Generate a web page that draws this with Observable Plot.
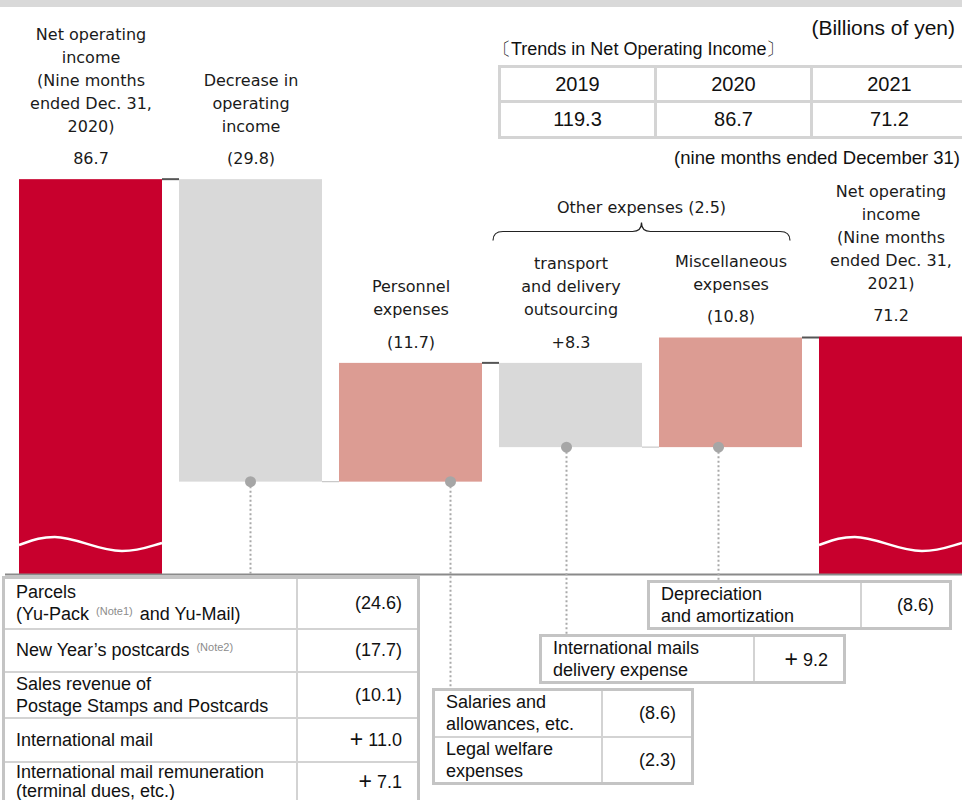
<!DOCTYPE html>
<html>
<head>
<meta charset="utf-8">
<script src="https://cdn.jsdelivr.net/npm/d3@7"></script>
<script src="https://cdn.jsdelivr.net/npm/@observablehq/plot@0.6"></script>
<style>
  html, body { margin: 0; padding: 0; background: #fff; }
  body { width: 962px; height: 800px; overflow: hidden; position: relative;
         font-family: "Liberation Sans", Arial, sans-serif; color: #111; }
  #band { position: absolute; left: 0; top: 0; width: 962px; height: 7px; background: #d9d9d9; }
  #chart { position: absolute; left: 0; top: 0; }
  .note-text { position: absolute; white-space: nowrap; }
  #unit { right: 7px; top: 16px; font-size: 21px; line-height: 24px; }
  #trendTitle { left: 493px; top: 38px; font-size: 18px; line-height: 22px; }
  #period { right: 2px; top: 147px; font-size: 18.5px; line-height: 22px; }
  table.trend { position: absolute; left: 498px; top: 65px; border-collapse: collapse; table-layout: fixed;
                width: 468px; font-size: 20px; border: 3px solid #d4d4d4; }
  table.trend td { border: 3px solid #d4d4d4; text-align: center; padding: 0; }
  table.box { position: absolute; border-collapse: collapse; table-layout: fixed; font-size: 18px;
              line-height: 22px; color: #111; border: 3px solid #c4c4c4; background: #fff; }
  table.box td { border: 2px solid #d3d3d3; padding: 0 0 0 11px; vertical-align: middle; white-space: nowrap; }
  table.box td.v { text-align: right; padding: 0 15px 0 0; }
  table.box td.tight { line-height: 19px; }
  table.box sup { font-size: 11px; color: #8c8c8c; vertical-align: top; position: relative; top: -3px; margin: 0 2px; }
  table.box .plus { font-size: 23px; font-family: "Liberation Sans", Arial, sans-serif; vertical-align: -1px; }
</style>
</head>
<body>
<div id="band"></div>
<div id="chart"></div>
<div class="note-text" id="unit">(Billions of yen)</div>
<div class="note-text" id="trendTitle">〔Trends in Net Operating Income〕</div>
<div class="note-text" id="period">(nine months ended December 31)</div>
<script>
// ---- Net operating income, start and end of the bridge ----
const startLabel = "Net operating\nincome\n(Nine months\nended Dec. 31,\n2020)";
const endLabel = "Net operating\nincome\n(Nine months\nended Dec. 31,\n2021)";
const startIncome = 86.7;
const endIncome = 71.2;

// ---- Factors between the two periods (changes as reported) ----
const factorKeys = ["revenue", "personnel", "transport", "misc"];
const factorLabels = [
  "Decrease in\noperating\nincome",
  "Personnel\nexpenses",
  "transport\nand delivery\noutsourcing",
  "Miscellaneous\nexpenses"
];
const factorChanges = [-29.8, -11.7, 8.3, -10.8];
const factorIsExpense = [false, true, true, true];
const otherExpenseKeys = ["transport", "misc"];

// ---- Trend table ----
const trendYears = ["2019", "2020", "2021"];
const trendIncome = [119.3, 86.7, 71.2];

// ---- Breakdown tables ----
const revenueItems = [
  "Parcels\n(Yu-Pack [Note1] and Yu-Mail)",
  "New Year’s postcards [Note2]",
  "Sales revenue of\nPostage Stamps and Postcards",
  "International mail",
  "International mail remuneration\n(terminal dues, etc.)"
];
const revenueChanges = [-24.6, -17.7, -10.1, 11.0, 7.1];
const personnelItems = ["Salaries and\nallowances, etc.", "Legal welfare\nexpenses"];
const personnelChanges = [-8.6, -2.3];
const transportItems = ["International mails\ndelivery expense"];
const transportChanges = [9.2];
const miscItems = ["Depreciation\nand amortization"];
const miscChanges = [-8.6];

// ---- Styling ----
const RED = "#c8002d", SALMON = "#dc9c93", GRAY = "#d9d9d9";
const LABEL_FONT = "DejaVu Sans, Verdana, sans-serif";
const LABEL_SIZE = 16;
const axisFloor = 47.8;   // value at the broken baseline
const axisTop = 87.8;

const fmtBar = v => v < 0 ? `(${(-v).toFixed(1)})` : `+${v.toFixed(1)}`;
const fmtTable = v => v < 0 ? `(${(-v).toFixed(1)})` : `<span class="plus">+</span> ${v.toFixed(1)}`;

// Build the waterfall rows
const rows = [{key: "start", label: startLabel, text: startIncome.toFixed(1),
               y1: axisFloor, y2: startIncome, top: startIncome, bottom: axisFloor, fill: RED}];
let level = startIncome;
factorKeys.forEach((key, i) => {
  const effect = factorIsExpense[i] ? -factorChanges[i] : factorChanges[i];
  const next = level + effect;
  rows.push({key, label: factorLabels[i], text: fmtBar(factorChanges[i]),
             y1: level, y2: next, top: Math.max(level, next), bottom: Math.min(level, next),
             fill: effect < 0 ? GRAY : SALMON});
  level = next;
});
rows.push({key: "end", label: endLabel, text: endIncome.toFixed(1),
           y1: axisFloor, y2: endIncome, top: endIncome, bottom: axisFloor, fill: RED});
const keys = rows.map(d => d.key);
const otherTotal = otherExpenseKeys.reduce((s, k) => s + factorChanges[factorKeys.indexOf(k)], 0);

// Where each factor's leader line meets its breakdown table, and its horizontal shift
const leaderEnd = {revenue: 577, personnel: 689, transport: 635, misc: 581};
const leaderShift = {revenue: 0, personnel: 40, transport: -4, misc: -12};

function annotate(index, scales) {
  const x = scales.x, y = scales.y;
  const bw = x.bandwidth();
  const g = d3.create("svg:g");

  // connectors between consecutive bars
  for (let i = 0; i < rows.length - 1; i++) {
    const lvl = rows[i].key === "start" ? startIncome : rows[i].y2;
    const nextTop = rows[i + 1].top;
    const atTop = Math.abs(nextTop - lvl) < 0.25;
    g.append("line")
      .attr("x1", x(rows[i].key) + bw).attr("x2", x(rows[i + 1].key))
      .attr("y1", y(lvl)).attr("y2", y(lvl))
      .attr("stroke", atTop ? "#555" : "#c8c8c8")
      .attr("stroke-width", atTop ? 2 : 1.2);
  }

  // axis-break waves across the total bars
  for (const key of ["start", "end"]) {
    const x0 = x(key), w = bw, yb = y(axisFloor);
    const P = (fx, dy) => `${x0 + fx * w},${yb + dy}`;
    g.append("path")
      .attr("d", `M${P(0, -29)} C${P(0.1, -34)} ${P(0.15, -37)} ${P(0.25, -37)} C${P(0.4, -37)} ${P(0.55, -23)} ${P(0.72, -23)} C${P(0.85, -23)} ${P(0.92, -28)} ${P(1, -31)}`)
      .attr("fill", "none").attr("stroke", "#fff").attr("stroke-width", 2.5);
  }

  // leader lines and dots from each factor to its breakdown
  for (const key of factorKeys) {
    const r = rows.find(d => d.key === key);
    const cx = x(key) + bw / 2 + leaderShift[key];
    const cy = y(r.bottom);
    g.append("line")
      .attr("x1", cx).attr("x2", cx).attr("y1", cy).attr("y2", leaderEnd[key])
      .attr("stroke", "#a9a9a9").attr("stroke-width", 2).attr("stroke-dasharray", "2 2.5");
    g.append("circle").attr("cx", cx).attr("cy", cy).attr("r", 5.5).attr("fill", "#a6a6a6");
  }

  // brace grouping the other expenses
  const x0 = x(otherExpenseKeys[0]) - 6;
  const x1 = x(otherExpenseKeys[otherExpenseKeys.length - 1]) + bw - 12;
  const xm = (x0 + x1) / 2;
  const groupTop = d3.max(rows.filter(d => otherExpenseKeys.includes(d.key)), d => d.top);
  const yb = y(groupTop) - 106;
  g.append("path")
    .attr("d", `M${x0},${yb + 9} Q${x0},${yb} ${x0 + 10},${yb} L${xm - 9},${yb} Q${xm},${yb} ${xm},${yb - 9} Q${xm},${yb} ${xm + 9},${yb} L${x1 - 10},${yb} Q${x1},${yb} ${x1},${yb + 9}`)
    .attr("fill", "none").attr("stroke", "#222").attr("stroke-width", 1.2);
  g.append("text")
    .attr("x", xm).attr("y", yb - 23)
    .attr("text-anchor", "middle").attr("dominant-baseline", "middle")
    .attr("font-family", LABEL_FONT).attr("font-size", LABEL_SIZE).attr("fill", "#1a1a1a")
    .text(`Other expenses ${fmtBar(otherTotal)}`);
  return g.node();
}

const chart = Plot.plot({
  width: 962,
  height: 800,
  marginTop: 0, marginRight: 0, marginBottom: 0, marginLeft: 0,
  x: {type: "band", domain: keys, range: [18, 962], paddingInner: 0.107, paddingOuter: 0, axis: null},
  y: {domain: [axisFloor, axisTop], range: [574, 168], axis: null},
  marks: [
    Plot.barY(rows, {x: "key", y1: "y1", y2: "y2", fill: "fill", insetLeft: 0, insetRight: 0}),
    Plot.ruleY([axisFloor], {stroke: "#8a8a8a", strokeWidth: 2, insetLeft: 5}),
    annotate,
    Plot.text(rows, {x: "key", y: "top", text: "text", dy: -21,
                     fontSize: LABEL_SIZE, fontFamily: LABEL_FONT, fill: "#1a1a1a"}),
    Plot.text(rows, {x: "key", y: "top", text: "label", lineAnchor: "bottom", lineHeight: 1.44, dy: -48,
                     fontSize: LABEL_SIZE, fontFamily: LABEL_FONT, fill: "#1a1a1a"})
  ]
});
document.getElementById("chart").append(chart);

// Trend table
const trend = document.createElement("table");
trend.className = "trend";
trend.innerHTML =
  `<colgroup>${trendYears.map(() => `<col style="width:156px">`).join("")}</colgroup>` +
  `<tr style="height:35px">${trendYears.map(y => `<td>${y}</td>`).join("")}</tr>` +
  `<tr style="height:36px">${trendIncome.map(v => `<td>${v.toFixed(1)}</td>`).join("")}</tr>`;
document.body.append(trend);

// Breakdown tables
const fmtItem = s => s.replace(/\[(Note\d)\]/g, "<sup>($1)</sup>").split("\n").join("<br>");
function breakdown(items, changes, layout) {
  const t = document.createElement("table");
  t.className = "box";
  t.style.left = layout.left + "px";
  t.style.top = layout.top + "px";
  t.style.width = (layout.cols[0] + layout.cols[1]) + "px";
  t.innerHTML =
    `<colgroup><col style="width:${layout.cols[0]}px"><col style="width:${layout.cols[1]}px"></colgroup>` +
    items.map((s, i) => {
      const cls = layout.tight && i === items.length - 1 ? ' class="tight"' : "";
      return `<tr style="height:${layout.rows[i]}px"><td${cls}>${fmtItem(s)}</td><td class="v">${fmtTable(changes[i])}</td></tr>`;
    }).join("");
  document.body.append(t);
}
breakdown(revenueItems, revenueChanges, {left: 2, top: 576, cols: [293, 122], rows: [51, 43, 45, 44, 41], tight: true});
breakdown(miscItems, miscChanges, {left: 647, top: 580, cols: [212, 90], rows: [47]});
breakdown(transportItems, transportChanges, {left: 539, top: 634, cols: [213, 91], rows: [46]});
breakdown(personnelItems, personnelChanges, {left: 432, top: 688, cols: [168, 91], rows: [47, 46]});
</script>
</body>
</html>
